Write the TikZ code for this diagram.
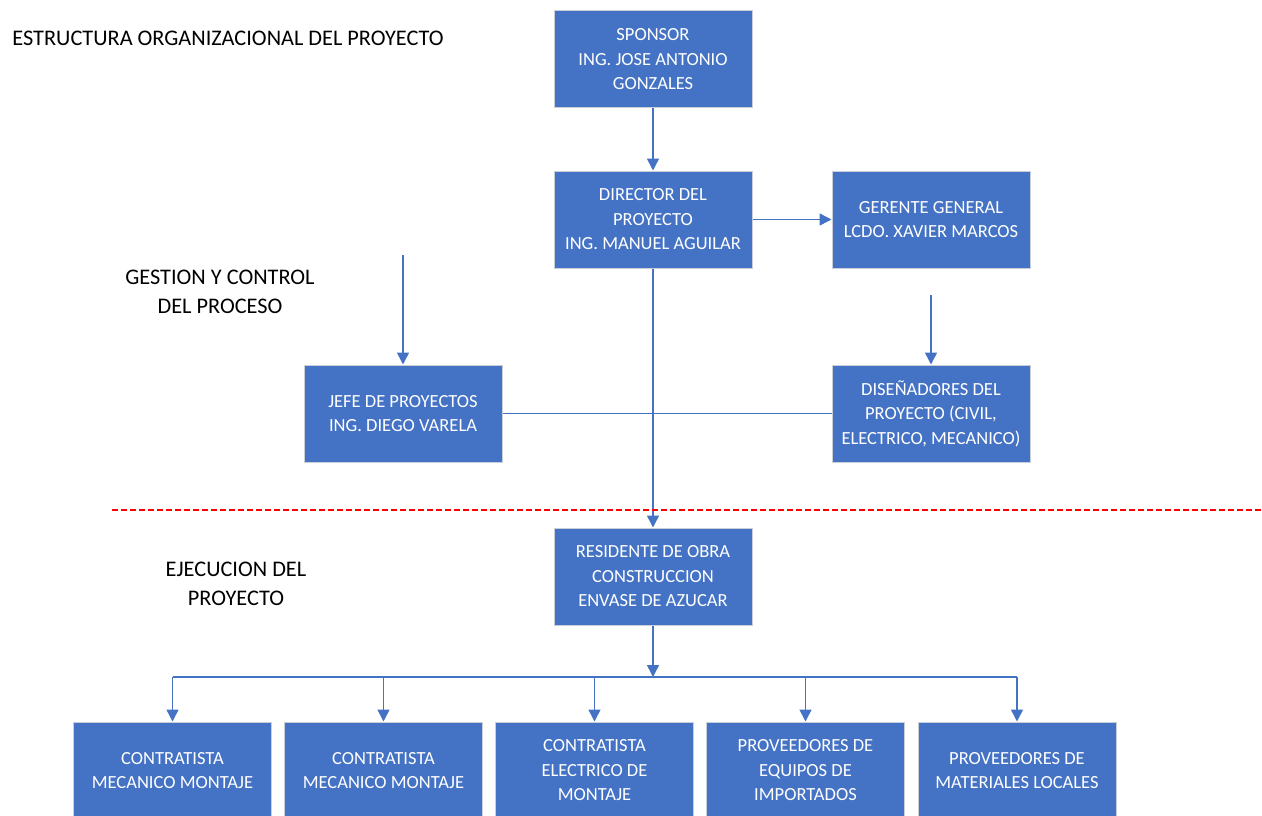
\documentclass[tikz,border=0pt]{standalone}
\usepackage{fontspec}
\setmainfont{Carlito}
\usetikzlibrary{arrows.meta}
\definecolor{azul}{HTML}{4472C4}
\definecolor{borde}{HTML}{C9CED8}
\tikzset{
    caja/.style={draw=borde, line width=1pt, fill=azul, text=white, align=center,
        minimum width=198pt, minimum height=97pt, inner sep=0pt,
        font=\fontsize{18.5}{24.5}\selectfont},
    lbl/.style={align=center, font=\fontsize{22.3}{29}\selectfont},
    linea/.style={azul, line width=1.5pt},
    flecha/.style={linea, -{Triangle[width=12pt,length=12pt]}},
}
\begin{document}
\begin{tikzpicture}[x=1pt,y=-1pt]
    \clip (0,0) rectangle (1262,816);
    % titulos
    \node[lbl] (titulo) at (228,38) {ESTRUCTURA ORGANIZACIONAL DEL PROYECTO};
    \node[lbl] (gestion) at (220,292) {GESTION Y CONTROL\\DEL PROCESO};
    \node[lbl] (ejecucion) at (236,584) {EJECUCION DEL\\PROYECTO};
    % cajas
    \node[caja] (sponsor) at (653,59.5) {SPONSOR\\ING. JOSE ANTONIO\\GONZALES};
    \node[caja] (director) at (653,219.5) {DIRECTOR DEL\\PROYECTO\\ING. MANUEL AGUILAR};
    \node[caja] (gerente) at (931,219.5) {GERENTE GENERAL\\LCDO. XAVIER MARCOS};
    \node[caja] (jefe) at (403,413.5) {JEFE DE PROYECTOS\\ING. DIEGO VARELA};
    \node[caja] (disenadores) at (931,413.5) {DISEÑADORES DEL\\PROYECTO (CIVIL,\\ELECTRICO, MECANICO)};
    \node[caja] (residente) at (653,576.5) {RESIDENTE DE OBRA\\CONSTRUCCION\\ENVASE DE AZUCAR};
    \foreach \i/\x/\t in {1/172.5/CONTRATISTA\\MECANICO MONTAJE,
                          2/383.5/CONTRATISTA\\MECANICO MONTAJE,
                          3/594.5/CONTRATISTA\\ELECTRICO DE\\MONTAJE,
                          4/805.5/PROVEEDORES DE\\EQUIPOS DE\\IMPORTADOS,
                          5/1017/PROVEEDORES DE\\MATERIALES LOCALES} {
        \node[caja] (b\i) at (\x,770.5) {\t};
    }
    % conectores
    \coordinate (inijefe) at (403,255);
    \coordinate (inidis) at (931,295);
    \coordinate (bus) at (653,677);
    \coordinate (corteizq) at (112,510);
    \coordinate (corteder) at (1262,510);
    \draw[linea] (jefe) -- (disenadores);
    \draw[flecha] (sponsor) -- (director);
    \draw[flecha] (director) -- (gerente);
    \draw[flecha] (inijefe) -- (jefe);
    \draw[flecha] (inidis) -- (disenadores);
    \draw[flecha] (director) -- (residente);
    \draw[red, line width=1.5pt, dash pattern=on 6pt off 3pt] (corteizq) -- (corteder);
    \draw[flecha] (residente) -- (bus);
    \draw[linea] (b1.north |- bus) -- (b5.north |- bus);
    \foreach \i in {1,...,5} {
        \draw[flecha] (b\i.north |- bus) -- (b\i);
    }
\end{tikzpicture}
\end{document}
